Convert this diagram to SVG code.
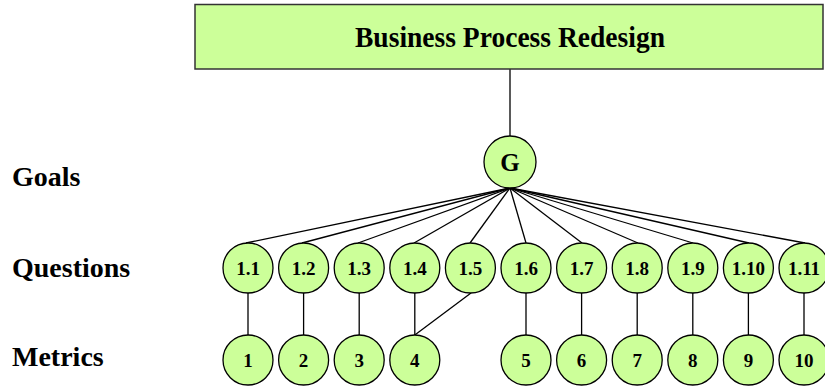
<svg xmlns="http://www.w3.org/2000/svg" width="825" height="387" viewBox="0 0 825 387">
<style>
.n circle{fill:#ccff99;stroke:#000;stroke-width:1.3}
.t{font-family:"Liberation Serif","Times New Roman",serif;font-weight:bold;fill:#000}
.q{font-size:19px;text-anchor:middle}
.lbl{font-size:28px}
#connectors line{stroke:#000;stroke-width:1.3}
</style>
<rect width="825" height="387" fill="#fff"/>
<g id="connectors">
<line x1="510" y1="69" x2="510" y2="136"/>
<line x1="510" y1="188" x2="246" y2="243"/>
<line x1="510" y1="188" x2="302" y2="243"/>
<line x1="510" y1="188" x2="358" y2="243"/>
<line x1="510" y1="188" x2="414" y2="243"/>
<line x1="510" y1="188" x2="470" y2="243"/>
<line x1="510" y1="188" x2="526" y2="243"/>
<line x1="510" y1="188" x2="582" y2="243"/>
<line x1="510" y1="188" x2="638" y2="243"/>
<line x1="510" y1="188" x2="693" y2="243"/>
<line x1="510" y1="188" x2="749" y2="243"/>
<line x1="510" y1="188" x2="805" y2="243"/>
<line x1="248" y1="293" x2="248" y2="335"/>
<line x1="303.6" y1="293" x2="303.6" y2="335"/>
<line x1="359.2" y1="293" x2="359.2" y2="335"/>
<line x1="414.8" y1="293" x2="414.8" y2="335"/>
<line x1="471" y1="293" x2="414.8" y2="335"/>
<line x1="526" y1="293" x2="526" y2="335"/>
<line x1="581.6" y1="293" x2="581.6" y2="335"/>
<line x1="637.2" y1="293" x2="637.2" y2="335"/>
<line x1="692.8" y1="293" x2="692.8" y2="335"/>
<line x1="748.4" y1="293" x2="748.4" y2="335"/>
<line x1="804" y1="293" x2="804" y2="335"/>
</g>
<g id="bpr">
<rect x="195" y="4.5" width="628" height="64.5" fill="#ccff99" stroke="#333" stroke-width="1.5"/>
<text class="t" x="510" y="47" font-size="29" text-anchor="middle" textLength="310" lengthAdjust="spacingAndGlyphs">Business Process Redesign</text>
</g>
<g id="labels">
<text class="t lbl" x="12" y="186">Goals</text>
<text class="t lbl" x="12" y="277">Questions</text>
<text class="t lbl" x="12" y="366">Metrics</text>
</g>
<g id="G" class="n"><circle cx="510" cy="162" r="26"/><text class="t" x="510" y="170.5" font-size="25" text-anchor="middle">G</text></g>
<g id="q1_1" class="n"><circle cx="248" cy="268" r="25"/><text class="t q" x="248" y="275">1.1</text></g>
<g id="q1_2" class="n"><circle cx="303.6" cy="268" r="25"/><text class="t q" x="303.6" y="275">1.2</text></g>
<g id="q1_3" class="n"><circle cx="359.2" cy="268" r="25"/><text class="t q" x="359.2" y="275">1.3</text></g>
<g id="q1_4" class="n"><circle cx="414.8" cy="268" r="25"/><text class="t q" x="414.8" y="275">1.4</text></g>
<g id="q1_5" class="n"><circle cx="470.4" cy="268" r="25"/><text class="t q" x="470.4" y="275">1.5</text></g>
<g id="q1_6" class="n"><circle cx="526" cy="268" r="25"/><text class="t q" x="526" y="275">1.6</text></g>
<g id="q1_7" class="n"><circle cx="581.6" cy="268" r="25"/><text class="t q" x="581.6" y="275">1.7</text></g>
<g id="q1_8" class="n"><circle cx="637.2" cy="268" r="25"/><text class="t q" x="637.2" y="275">1.8</text></g>
<g id="q1_9" class="n"><circle cx="692.8" cy="268" r="25"/><text class="t q" x="692.8" y="275">1.9</text></g>
<g id="q1_10" class="n"><circle cx="748.4" cy="268" r="25"/><text class="t q" x="748.4" y="275">1.10</text></g>
<g id="q1_11" class="n"><circle cx="804" cy="268" r="25"/><text class="t q" x="804" y="275">1.11</text></g>
<g id="m1" class="n"><circle cx="248" cy="360" r="25"/><text class="t q" x="248" y="366.5">1</text></g>
<g id="m2" class="n"><circle cx="303.6" cy="360" r="25"/><text class="t q" x="303.6" y="366.5">2</text></g>
<g id="m3" class="n"><circle cx="359.2" cy="360" r="25"/><text class="t q" x="359.2" y="366.5">3</text></g>
<g id="m4" class="n"><circle cx="414.8" cy="360" r="25"/><text class="t q" x="414.8" y="366.5">4</text></g>
<g id="m5" class="n"><circle cx="526" cy="360" r="25"/><text class="t q" x="526" y="366.5">5</text></g>
<g id="m6" class="n"><circle cx="581.6" cy="360" r="25"/><text class="t q" x="581.6" y="366.5">6</text></g>
<g id="m7" class="n"><circle cx="637.2" cy="360" r="25"/><text class="t q" x="637.2" y="366.5">7</text></g>
<g id="m8" class="n"><circle cx="692.8" cy="360" r="25"/><text class="t q" x="692.8" y="366.5">8</text></g>
<g id="m9" class="n"><circle cx="748.4" cy="360" r="25"/><text class="t q" x="748.4" y="366.5">9</text></g>
<g id="m10" class="n"><circle cx="804" cy="360" r="25"/><text class="t q" x="804" y="366.5">10</text></g>
</svg>
